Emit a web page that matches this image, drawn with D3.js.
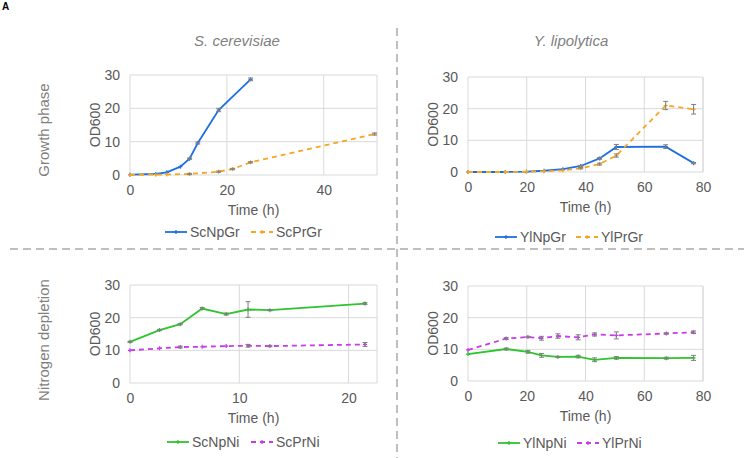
<!DOCTYPE html>
<html><head><meta charset="utf-8">
<script src="https://cdn.jsdelivr.net/npm/d3@7"></script>
<style>
html,body{margin:0;padding:0;background:#fff;}
svg{display:block;font-family:"Liberation Sans",Arial,sans-serif;}
</style></head>
<body><svg id="chart" width="744" height="458"></svg>
<script>
// ---------- data ----------
const yTicks = [0, 10, 20, 30];

const scGrTime   = [0, 5.3, 7.6, 10.4, 12.3, 14, 18.3, 24.9];
const scNpGr     = [0.1, 0.3, 0.8, 2.5, 4.9, 9.6, 19.5, 28.7];
const scNpGrErr  = [0, 0, 0, 0, 0.2, 0.3, 0.5, 0.4];
const scPrTime   = [0, 5.3, 7.6, 12.3, 18.3, 21.2, 24.9, 50.5];
const scPrGr     = [0.05, 0.1, 0.15, 0.3, 1.0, 1.8, 3.8, 12.3];
const scPrGrErr  = [0, 0, 0, 0.2, 0.2, 0.2, 0.2, 0.3];
const scGrXTicks = [0, 20, 40];

const ylGrTime   = [0, 12.7, 19.9, 25.9, 32.3, 38.4, 44.8, 50.5, 67.3, 76.8];
const ylNpGr     = [0, 0, 0.1, 0.4, 0.9, 1.9, 4.3, 7.9, 8.0, 2.8];
const ylNpGrErr  = [0, 0, 0, 0, 0.1, 0.2, 0.3, 0.8, 0.6, 0.2];
const ylPrGr     = [0, 0, 0.1, 0.2, 0.5, 1.2, 2.5, 5.2, 21.0, 19.8];
const ylPrGrErr  = [0, 0, 0, 0, 0.1, 0.2, 0.3, 0.5, 1.3, 1.5];
const ylXTicks   = [0, 20, 40, 60, 80];

const scNiTime   = [0, 2.7, 4.6, 6.6, 8.8, 10.8, 12.8, 21.5];
const scNpNi     = [12.6, 16.2, 18.0, 22.8, 21.1, 22.5, 22.3, 24.3];
const scNpNiErr  = [0.2, 0.2, 0.2, 0.3, 0.3, 2.4, 0.2, 0.3];
const scPrNi     = [10.0, 10.6, 11.0, 11.1, 11.3, 11.4, 11.3, 11.8];
const scPrNiErr  = [0.1, 0.1, 0.3, 0.1, 0.1, 0.4, 0.2, 0.6];
const scNiXTicks = [0, 10, 20];

const ylNiTime   = [0, 13, 20.4, 25, 30.6, 37.5, 43.1, 50.5, 67.5, 76.8];
const ylNpNi     = [8.5, 10.1, 9.2, 8.1, 7.6, 7.7, 6.7, 7.3, 7.2, 7.3];
const ylNpNiErr  = [0.1, 0.3, 0.4, 0.6, 0.2, 0.4, 0.6, 0.4, 0.3, 0.8];
const ylPrNi     = [9.8, 13.4, 13.9, 13.5, 14.2, 13.8, 14.7, 14.4, 15.0, 15.4];
const ylPrNiErr  = [0.1, 0.3, 0.2, 0.6, 0.7, 0.8, 0.5, 1.1, 0.2, 0.4];

const titles = ["S. cerevisiae", "Y. lipolytica"];
const rowLabels = ["Growth phase", "Nitrogen depletion"];

// ---------- drawing ----------
const svg = d3.select("#chart");
const gray = "#595959";
const colors = {blue:"#1f6fe2", orange:"#f5a623", green:"#2dc42d", magenta:"#c93ae8"};

function zip(t, v, e){ return t.map((x,i)=>({x, y:v[i], e:e[i]})); }

function panel(cfg){
  const x = d3.scaleLinear().domain(cfg.xDomain).range(cfg.xRange);
  const y = d3.scaleLinear().domain([0,30]).range(cfg.yRange);
  const g = svg.append("g");
  g.selectAll(".hg").data(yTicks).join("line")
    .attr("x1", cfg.xRange[0]).attr("x2", cfg.xRange[1])
    .attr("y1", d=>y(d)).attr("y2", d=>y(d))
    .attr("stroke", "#d9d9d9").attr("stroke-width", 1);
  g.selectAll(".vg").data(cfg.xTicks).join("line")
    .attr("x1", d=>x(d)).attr("x2", d=>x(d))
    .attr("y1", cfg.yRange[0]).attr("y2", cfg.yRange[1])
    .attr("stroke", "#d9d9d9").attr("stroke-width", 1);
  g.append("line").attr("x1", cfg.xRange[1]).attr("x2", cfg.xRange[1])
    .attr("y1", cfg.yRange[0]).attr("y2", cfg.yRange[1]).attr("stroke", "#d9d9d9");
  const ax = g.append("g").attr("transform", `translate(0,${cfg.yRange[0]})`)
    .call(d3.axisBottom(x).tickValues(cfg.xTicks).tickSize(0).tickPadding(10).tickFormat(d3.format("d")));
  ax.select(".domain").remove();
  ax.selectAll("text").attr("font-size", 14).attr("fill", gray).attr("font-family", "Liberation Sans, Arial, sans-serif");
  const ay = g.append("g").attr("transform", `translate(${cfg.xRange[0]},0)`)
    .call(d3.axisLeft(y).tickValues(yTicks).tickSize(0).tickPadding(10));
  ay.select(".domain").remove();
  ay.selectAll("text").attr("font-size", 14).attr("fill", gray).attr("font-family", "Liberation Sans, Arial, sans-serif");
  g.append("text").attr("x", (cfg.xRange[0]+cfg.xRange[1])/2).attr("y", cfg.yRange[0]+40)
    .attr("text-anchor","middle").attr("font-size",14).attr("fill",gray).text("Time (h)");
  g.append("text").attr("transform", `translate(${cfg.xRange[0]-30},${(cfg.yRange[0]+cfg.yRange[1])/2}) rotate(-90)`)
    .attr("text-anchor","middle").attr("font-size",14).attr("fill",gray).text("OD600");
  const line = d3.line().x(d=>x(d.x)).y(d=>y(d.y));
  cfg.series.forEach(s=>{
    const data = zip(s.t, s.v, s.e);
    g.append("path").datum(data).attr("d", line).attr("fill","none")
      .attr("stroke", s.color).attr("stroke-width", 1.8)
      .attr("stroke-dasharray", s.dash ? "5,4" : null);
    g.selectAll(null).data(data).join("path")
      .attr("d", d=>`M${x(d.x)-2},${y(d.y)}h4M${x(d.x)},${y(d.y)-2}v4`)
      .attr("stroke", s.color).attr("stroke-width", 1.2);
    const eb = data.filter(d=>d.e>0.15);
    g.selectAll(null).data(eb).join("path")
      .attr("d", d=>`M${x(d.x)},${y(d.y-d.e)}V${y(d.y+d.e)}M${x(d.x)-2.5},${y(d.y-d.e)}h5M${x(d.x)-2.5},${y(d.y+d.e)}h5`)
      .attr("stroke", "#7f7f7f").attr("stroke-width", 1).attr("fill","none");
  });
  cfg.legend.forEach((l,i)=>{
    const s = cfg.series[i];
    g.append("line").attr("x1", l.x).attr("x2", l.x+22).attr("y1", cfg.legendY).attr("y2", cfg.legendY)
      .attr("stroke", s.color).attr("stroke-width", 1.8).attr("stroke-dasharray", s.dash ? "5,4" : null);
    g.append("path").attr("d", `M${l.x+9},${cfg.legendY}h4M${l.x+11},${cfg.legendY-2}v4`)
      .attr("stroke", s.color).attr("stroke-width", 1.2);
    g.append("text").attr("x", l.x+25).attr("y", cfg.legendY+5).attr("font-size",14).attr("fill",gray).text(s.name);
  });
}

panel({xDomain:[0,51], xRange:[130,377], yRange:[175,75], xTicks:scGrXTicks, legendY:232,
  series:[
    {name:"ScNpGr", t:scGrTime, v:scNpGr, e:scNpGrErr, color:colors.blue, dash:false},
    {name:"ScPrGr", t:scPrTime, v:scPrGr, e:scPrGrErr, color:colors.orange, dash:true}],
  legend:[{x:165},{x:251}]});
panel({xDomain:[0,80], xRange:[468,703], yRange:[172,77], xTicks:ylXTicks, legendY:237,
  series:[
    {name:"YlNpGr", t:ylGrTime, v:ylNpGr, e:ylNpGrErr, color:colors.blue, dash:false},
    {name:"YlPrGr", t:ylGrTime, v:ylPrGr, e:ylPrGrErr, color:colors.orange, dash:true}],
  legend:[{x:495},{x:576}]});
panel({xDomain:[0,22.6], xRange:[130,377], yRange:[383,285], xTicks:scNiXTicks, legendY:442,
  series:[
    {name:"ScNpNi", t:scNiTime, v:scNpNi, e:scNpNiErr, color:colors.green, dash:false},
    {name:"ScPrNi", t:scNiTime, v:scPrNi, e:scPrNiErr, color:colors.magenta, dash:true}],
  legend:[{x:167},{x:251}]});
panel({xDomain:[0,80], xRange:[468,703], yRange:[381,286], xTicks:ylXTicks, legendY:443,
  series:[
    {name:"YlNpNi", t:ylNiTime, v:ylNpNi, e:ylNpNiErr, color:colors.green, dash:false},
    {name:"YlPrNi", t:ylNiTime, v:ylPrNi, e:ylPrNiErr, color:colors.magenta, dash:true}],
  legend:[{x:498},{x:577}]});

svg.selectAll(".title").data(titles).join("text")
  .attr("x", (d,i)=>[237,571][i]).attr("y", 46).attr("text-anchor","middle")
  .attr("font-size",15).attr("font-style","italic").attr("fill","#7f7f7f").text(d=>d);
svg.selectAll(".row").data(rowLabels).join("text")
  .attr("transform", (d,i)=>`translate(49,${[130,340][i]}) rotate(-90)`).attr("text-anchor","middle")
  .attr("font-size",15).attr("fill","#7f7f7f").text(d=>d);
svg.append("line").attr("x1",10).attr("x2",744).attr("y1",249).attr("y2",249)
  .attr("stroke","#bfbfbf").attr("stroke-width",2).attr("stroke-dasharray","8,5");
svg.append("line").attr("x1",397).attr("x2",397).attr("y1",28).attr("y2",458)
  .attr("stroke","#bfbfbf").attr("stroke-width",2).attr("stroke-dasharray","8,5");
svg.append("text").attr("x",2).attr("y",10).attr("font-size",10).attr("font-weight","bold").attr("fill","#000").text("A");
</script></body></html>
